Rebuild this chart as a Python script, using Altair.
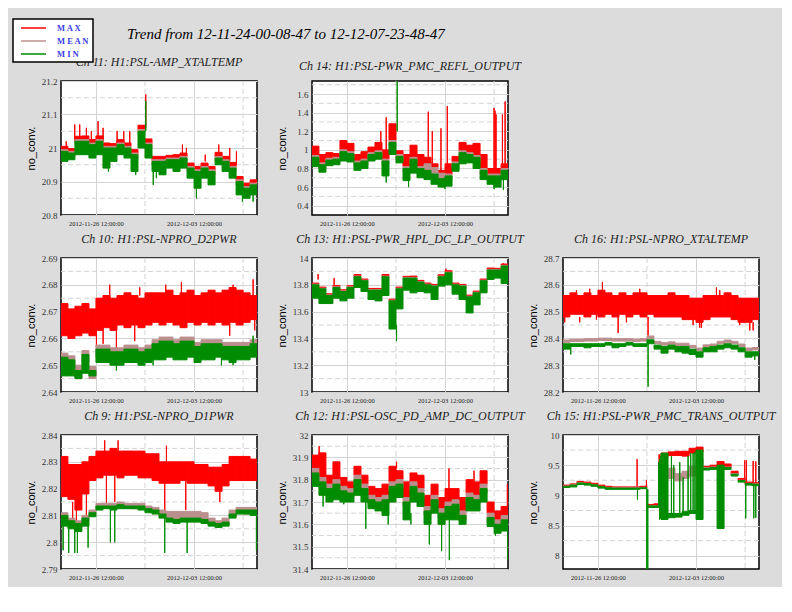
import pandas as pd
import altair as alt

START = pd.Timestamp("2012-11-24 00:00", tz="UTC")
N_BINS = 28          # 12-hour bins across the two weeks
BIN_H = 12

SERIES = ["MAX", "MEAN", "MIN"]
COLORS = ["#ff0000", "#bc8f8f", "#008c00"]
GRID = "#d3d3d3"

X_DOMAIN = [alt.DateTime(year=2012, month=11, date=24, hours=0, minutes=8, seconds=47, utc=True),
            alt.DateTime(year=2012, month=12, date=7, hours=23, minutes=48, seconds=47, utc=True)]
X_MAJOR = [alt.DateTime(year=2012, month=11, date=26, hours=12, utc=True),
           alt.DateTime(year=2012, month=12, date=3, hours=12, utc=True)]
X_MINOR = ["2012-11-30T00:00:00Z", "2012-12-07T00:00:00Z"]

# ---- Ch 11: H1:PSL-AMP_XTALTEMP
CH11_MAX_LO = [20.993, 20.988, 21.023, 21.023, 21.013, 21.023, 21.003, 21.003, 21.013, 21.003, 20.983, 21.053, 21.013, 20.963, 20.963, 20.968, 20.968, 20.973, 20.943, 20.933, 20.943, 20.933, 20.973, 20.963, 20.943, 20.903, 20.883, 20.893]
CH11_MAX_HI = [21.005, 20.998, 21.035, 21.036, 21.025, 21.036, 21.015, 21.013, 21.025, 21.015, 20.995, 21.068, 21.027, 20.975, 20.975, 20.978, 20.98, 20.985, 20.955, 20.945, 20.955, 20.945, 20.987, 20.975, 20.957, 20.915, 20.895, 20.905]
CH11_MEAN_LO = [20.98, 20.975, 21.01, 21.01, 21.0, 21.01, 20.99, 20.99, 21.0, 20.99, 20.97, 21.04, 21.0, 20.95, 20.95, 20.955, 20.955, 20.96, 20.93, 20.92, 20.93, 20.92, 20.96, 20.95, 20.93, 20.89, 20.87, 20.88]
CH11_MEAN_HI = [20.995, 20.99, 21.025, 21.025, 21.015, 21.025, 21.005, 21.005, 21.015, 21.005, 20.985, 21.055, 21.015, 20.965, 20.965, 20.97, 20.97, 20.975, 20.945, 20.935, 20.945, 20.935, 20.975, 20.965, 20.945, 20.905, 20.885, 20.895]
CH11_MIN_LO = [20.96, 20.965, 20.98, 20.98, 20.97, 20.98, 20.94, 20.96, 20.98, 20.97, 20.93, 21.0, 20.97, 20.93, 20.92, 20.94, 20.93, 20.94, 20.91, 20.88, 20.91, 20.89, 20.95, 20.93, 20.91, 20.86, 20.85, 20.86]
CH11_MIN_HI = [20.99, 20.985, 21.02, 21.02, 21.01, 21.02, 21.0, 21.0, 21.01, 21.0, 20.98, 21.05, 21.01, 20.96, 20.96, 20.965, 20.965, 20.97, 20.94, 20.93, 20.94, 20.93, 20.97, 20.96, 20.94, 20.9, 20.88, 20.89]
CH11_SPK_H = [9.0, 23.6, 32.1, 43.5, 52.0, 63.5, 72.1, 96.1, 107.5, 117.8, 145.2, 208.0, 214.8, 247.0, 270.2, 289.0, 300.5, 145.2, 81.2, 128.0, 158.0, 163.4, 231.9, 310.7, 329.0]
CH11_SPK_LO = [21.0, 21.02, 21.02, 21.02, 21.02, 21.02, 21.02, 21.0, 21.0, 21.0, 21.06, 20.97, 20.97, 20.96, 20.97, 20.96, 20.95, 21.05, 20.93, 20.92, 20.89, 20.91, 20.85, 20.84, 20.84]
CH11_SPK_HI = [21.02, 21.07, 21.07, 21.06, 21.05, 21.08, 21.06, 21.05, 21.05, 21.05, 21.16, 21.01, 21.0, 20.98, 21.01, 21.0, 20.99, 21.14, 20.98, 20.96, 20.95, 20.95, 20.92, 20.9, 20.88]
CH11_SPK_S = ["MAX"] * 17 + ["MIN"] * 8

# ---- Ch 14: H1:PSL-PWR_PMC_REFL_OUTPUT
CH14_MAX_LO = [0.94, 0.86, 0.91, 0.92, 1.00, 0.98, 0.88, 0.90, 0.97, 0.99, 0.90, 1.10, 0.95, 0.82, 0.92, 0.82, 0.85, 0.81, 0.75, 0.74, 0.87, 0.99, 0.97, 0.94, 0.80, 0.74, 0.74, 0.80]
CH14_MAX_HI = [1.04, 0.95, 0.97, 0.96, 1.10, 1.07, 0.95, 0.98, 1.03, 1.08, 1.00, 1.28, 0.99, 0.95, 1.05, 0.95, 0.92, 0.85, 0.78, 0.85, 0.93, 1.08, 1.05, 1.07, 0.95, 0.80, 0.80, 0.85]
CH14_MEAN_LO = [0.88, 0.80, 0.85, 0.86, 0.94, 0.92, 0.82, 0.84, 0.91, 0.93, 0.84, 1.04, 0.89, 0.76, 0.86, 0.76, 0.76, 0.72, 0.66, 0.68, 0.81, 0.93, 0.91, 0.88, 0.74, 0.68, 0.68, 0.74]
CH14_MEAN_HI = [0.94, 0.86, 0.91, 0.92, 1.00, 0.98, 0.88, 0.90, 0.97, 0.99, 0.90, 1.10, 0.95, 0.82, 0.92, 0.82, 0.85, 0.81, 0.75, 0.74, 0.87, 0.99, 0.97, 0.94, 0.80, 0.74, 0.74, 0.80]
CH14_MIN_LO = [0.82, 0.76, 0.83, 0.84, 0.88, 0.87, 0.78, 0.80, 0.88, 0.90, 0.72, 0.95, 0.86, 0.67, 0.75, 0.70, 0.68, 0.63, 0.60, 0.61, 0.77, 0.85, 0.86, 0.80, 0.68, 0.63, 0.60, 0.68]
CH14_MIN_HI = [0.92, 0.84, 0.89, 0.90, 0.98, 0.96, 0.86, 0.88, 0.95, 0.97, 0.88, 1.08, 0.93, 0.80, 0.90, 0.80, 0.78, 0.74, 0.69, 0.72, 0.85, 0.97, 0.95, 0.92, 0.78, 0.72, 0.72, 0.78]
CH14_SPK_H = [117.9, 127.1, 199.1, 206.0, 220.9, 231.7, 311.8, 313.5, 315.2, 326.1, 330.7, 145.9, 127.1, 165.4, 227.7, 311.8, 327.8]
CH14_SPK_LO = [1.0, 0.8, 0.85, 0.85, 0.75, 0.72, 0.72, 0.72, 0.72, 0.72, 0.75, 1.2, 0.65, 0.6, 0.58, 0.58, 0.57]
CH14_SPK_HI = [1.2, 1.35, 1.41, 1.2, 1.23, 1.47, 1.45, 1.42, 1.38, 1.38, 1.52, 1.74, 0.85, 0.8, 0.7, 0.7, 0.7]
CH14_SPK_S = ["MAX"] * 11 + ["MIN"] * 6

# ---- Ch 10: H1:PSL-NPRO_D2PWR
CH10_MAX_LO = [2.661, 2.660, 2.661, 2.662, 2.661, 2.663, 2.664, 2.663, 2.665, 2.664, 2.665, 2.664, 2.665, 2.666, 2.665, 2.666, 2.665, 2.664, 2.666, 2.665, 2.666, 2.665, 2.666, 2.665, 2.666, 2.665, 2.666, 2.667]
CH10_MAX_HI = [2.673, 2.671, 2.672, 2.673, 2.671, 2.675, 2.676, 2.675, 2.676, 2.677, 2.676, 2.675, 2.677, 2.677, 2.677, 2.678, 2.676, 2.677, 2.678, 2.676, 2.677, 2.678, 2.677, 2.678, 2.679, 2.678, 2.677, 2.676]
CH10_MEAN_LO = [2.650, 2.649, 2.645, 2.651, 2.645, 2.653, 2.653, 2.652, 2.652, 2.653, 2.653, 2.652, 2.653, 2.655, 2.656, 2.656, 2.655, 2.656, 2.656, 2.654, 2.655, 2.655, 2.655, 2.654, 2.654, 2.654, 2.654, 2.655]
CH10_MEAN_HI = [2.6545, 2.6535, 2.650, 2.6555, 2.6495, 2.6575, 2.6575, 2.6565, 2.6565, 2.6575, 2.6575, 2.6565, 2.6575, 2.6595, 2.6605, 2.6605, 2.6595, 2.6605, 2.6605, 2.6585, 2.6595, 2.6595, 2.6595, 2.6585, 2.6585, 2.6585, 2.6585, 2.6595]
CH10_MIN_LO = [2.646, 2.646, 2.645, 2.647, 2.646, 2.651, 2.651, 2.650, 2.650, 2.651, 2.651, 2.650, 2.651, 2.652, 2.652, 2.653, 2.652, 2.652, 2.653, 2.651, 2.652, 2.652, 2.653, 2.652, 2.651, 2.652, 2.652, 2.653]
CH10_MIN_HI = [2.653, 2.652, 2.648, 2.654, 2.648, 2.656, 2.656, 2.655, 2.655, 2.656, 2.656, 2.655, 2.656, 2.658, 2.659, 2.659, 2.658, 2.659, 2.659, 2.657, 2.658, 2.658, 2.658, 2.657, 2.657, 2.657, 2.657, 2.658]
CH10_SPK_H = [60.7, 72.1, 94.9, 126.3, 289.0, 331.8, 83.5, 134.9, 179.4, 206.2, 294.7, 329.0, 94.9, 157.7, 274.8, 294.7, 329.0]
CH10_SPK_LO = [2.656, 2.658, 2.653, 2.659, 2.661, 2.663, 2.675, 2.676, 2.677, 2.677, 2.678, 2.676, 2.648, 2.650, 2.650, 2.650, 2.657]
CH10_SPK_HI = [2.664, 2.664, 2.664, 2.665, 2.666, 2.667, 2.680, 2.679, 2.680, 2.681, 2.680, 2.682, 2.652, 2.652, 2.653, 2.653, 2.661]
CH10_SPK_S = ["MAX"] * 12 + ["MIN"] * 5

# ---- Ch 13: H1:PSL-PWR_HPL_DC_LP_OUTPUT
CH13_MAX_LO = [13.805, 13.775, 13.725, 13.785, 13.755, 13.785, 13.865, 13.835, 13.765, 13.765, 13.865, 13.685, 13.775, 13.855, 13.855, 13.825, 13.805, 13.795, 13.865, 13.895, 13.805, 13.795, 13.715, 13.745, 13.835, 13.915, 13.915, 13.945]
CH13_MAX_HI = [13.813, 13.783, 13.733, 13.795, 13.763, 13.793, 13.876, 13.843, 13.773, 13.773, 13.877, 13.693, 13.783, 13.863, 13.865, 13.833, 13.813, 13.803, 13.875, 13.905, 13.813, 13.803, 13.723, 13.753, 13.843, 13.925, 13.923, 13.955]
CH13_MEAN_LO = [13.79, 13.76, 13.71, 13.77, 13.74, 13.77, 13.85, 13.82, 13.75, 13.75, 13.85, 13.67, 13.76, 13.84, 13.84, 13.81, 13.79, 13.78, 13.85, 13.88, 13.79, 13.78, 13.70, 13.73, 13.82, 13.90, 13.90, 13.93]
CH13_MEAN_HI = [13.805, 13.775, 13.725, 13.785, 13.755, 13.785, 13.865, 13.835, 13.765, 13.765, 13.865, 13.685, 13.775, 13.855, 13.855, 13.825, 13.805, 13.795, 13.865, 13.895, 13.805, 13.795, 13.715, 13.745, 13.835, 13.915, 13.915, 13.945]
CH13_MIN_LO = [13.70, 13.66, 13.66, 13.70, 13.68, 13.70, 13.78, 13.75, 13.69, 13.68, 13.72, 13.47, 13.62, 13.76, 13.74, 13.75, 13.74, 13.69, 13.79, 13.80, 13.73, 13.69, 13.59, 13.65, 13.74, 13.84, 13.85, 13.81]
CH13_MIN_HI = [13.80, 13.77, 13.72, 13.78, 13.75, 13.78, 13.86, 13.83, 13.76, 13.76, 13.86, 13.68, 13.77, 13.85, 13.85, 13.82, 13.80, 13.79, 13.86, 13.89, 13.80, 13.79, 13.71, 13.74, 13.83, 13.91, 13.91, 13.94]
CH13_SPK_H = [10.4, 37.9, 229.4, 327.8, 144.8]
CH13_SPK_LO = [13.84, 13.80, 13.90, 13.93, 13.38]
CH13_SPK_HI = [13.88, 13.85, 13.92, 13.96, 13.50]
CH13_SPK_S = ["MAX"] * 4 + ["MIN"] * 1

# ---- Ch 16: H1:PSL-NPRO_XTALTEMP
CH16_MAX_LO = [28.48, 28.49, 28.49, 28.48, 28.49, 28.48, 28.49, 28.48, 28.49, 28.48, 28.49, 28.48, 28.49, 28.48, 28.48, 28.48, 28.48, 28.47, 28.47, 28.46, 28.47, 28.48, 28.48, 28.48, 28.47, 28.46, 28.46, 28.47]
CH16_MAX_HI = [28.56, 28.57, 28.56, 28.57, 28.56, 28.58, 28.57, 28.56, 28.57, 28.56, 28.57, 28.57, 28.56, 28.56, 28.56, 28.57, 28.56, 28.56, 28.55, 28.55, 28.56, 28.56, 28.56, 28.57, 28.56, 28.55, 28.55, 28.55]
CH16_MEAN_LO = [28.385, 28.388, 28.388, 28.39, 28.39, 28.392, 28.392, 28.39, 28.39, 28.39, 28.388, 28.39, 28.40, 28.38, 28.375, 28.378, 28.373, 28.373, 28.365, 28.355, 28.367, 28.37, 28.38, 28.385, 28.38, 28.37, 28.355, 28.357]
CH16_MEAN_HI = [28.394, 28.397, 28.397, 28.399, 28.399, 28.401, 28.401, 28.399, 28.399, 28.399, 28.397, 28.399, 28.409, 28.389, 28.384, 28.387, 28.382, 28.382, 28.374, 28.364, 28.376, 28.379, 28.389, 28.394, 28.389, 28.379, 28.364, 28.366]
CH16_MIN_LO = [28.36, 28.37, 28.37, 28.365, 28.37, 28.37, 28.375, 28.365, 28.37, 28.375, 28.37, 28.37, 28.38, 28.36, 28.345, 28.36, 28.35, 28.345, 28.34, 28.33, 28.35, 28.35, 28.36, 28.365, 28.36, 28.35, 28.33, 28.335]
CH16_MIN_HI = [28.38, 28.38, 28.38, 28.38, 28.38, 28.38, 28.385, 28.38, 28.38, 28.385, 28.38, 28.38, 28.395, 28.375, 28.37, 28.375, 28.37, 28.37, 28.36, 28.35, 28.365, 28.37, 28.375, 28.38, 28.375, 28.365, 28.35, 28.35]
CH16_SPK_H = [67.5, 23.0, 45.8, 131.5, 262.8, 268.5, 3.0, 28.7, 57.2, 94.4, 108.6, 145.7, 222.8, 234.2, 237.1, 302.7, 319.9, 325.6, 145.7, 13.3, 228.5, 328.4]
CH16_SPK_LO = [28.55, 28.56, 28.56, 28.57, 28.56, 28.56, 28.46, 28.46, 28.47, 28.42, 28.46, 28.41, 28.45, 28.44, 28.44, 28.45, 28.43, 28.43, 28.22, 28.34, 28.33, 28.32]
CH16_SPK_HI = [28.61, 28.58, 28.585, 28.585, 28.59, 28.58, 28.48, 28.48, 28.49, 28.48, 28.48, 28.48, 28.47, 28.47, 28.46, 28.47, 28.47, 28.46, 28.38, 28.37, 28.35, 28.34]
CH16_SPK_S = ["MAX"] * 18 + ["MIN"] * 4

# ---- Ch 9: H1:PSL-NPRO_D1PWR
CH9_MAX_LO = [2.817, 2.816, 2.812, 2.818, 2.823, 2.824, 2.825, 2.825, 2.824, 2.825, 2.825, 2.824, 2.824, 2.823, 2.822, 2.822, 2.822, 2.823, 2.822, 2.822, 2.822, 2.821, 2.819, 2.821, 2.823, 2.823, 2.823, 2.823]
CH9_MAX_HI = [2.832, 2.829, 2.829, 2.830, 2.832, 2.834, 2.834, 2.835, 2.834, 2.834, 2.834, 2.834, 2.833, 2.833, 2.830, 2.830, 2.830, 2.830, 2.830, 2.829, 2.829, 2.828, 2.828, 2.829, 2.832, 2.832, 2.832, 2.831]
CH9_MEAN_LO = [2.809, 2.807, 2.806, 2.808, 2.8105, 2.8125, 2.8128, 2.8128, 2.813, 2.8128, 2.8125, 2.8125, 2.8115, 2.811, 2.8095, 2.809, 2.8085, 2.809, 2.809, 2.809, 2.808, 2.8065, 2.806, 2.8065, 2.8095, 2.811, 2.8105, 2.8105]
CH9_MEAN_HI = [2.811, 2.809, 2.808, 2.810, 2.812, 2.8145, 2.8145, 2.8145, 2.815, 2.8145, 2.8145, 2.8145, 2.8135, 2.813, 2.812, 2.8115, 2.8115, 2.8115, 2.8115, 2.8115, 2.811, 2.809, 2.808, 2.809, 2.812, 2.813, 2.813, 2.813]
CH9_MIN_LO = [2.806, 2.805, 2.804, 2.806, 2.8095, 2.812, 2.8125, 2.812, 2.8125, 2.8125, 2.8125, 2.812, 2.811, 2.8105, 2.809, 2.8075, 2.807, 2.8075, 2.8075, 2.8075, 2.807, 2.806, 2.8055, 2.806, 2.809, 2.8105, 2.8105, 2.810]
CH9_MIN_HI = [2.810, 2.808, 2.807, 2.809, 2.811, 2.8135, 2.8135, 2.8135, 2.814, 2.8135, 2.8135, 2.8135, 2.8125, 2.812, 2.8105, 2.809, 2.8085, 2.809, 2.809, 2.809, 2.8085, 2.8075, 2.807, 2.8075, 2.8105, 2.812, 2.812, 2.812]
CH9_SPK_H = [20.0, 26.4, 43.5, 77.8, 92.1, 177.7, 213.7, 272.0, 74.9, 97.8, 180.6, 3.6, 13.3, 23.6, 28.1, 46.4, 84.6, 92.1, 177.7, 216.0, 334.7]
CH9_SPK_LO = [2.808, 2.805, 2.810, 2.813, 2.815, 2.810, 2.812, 2.815, 2.834, 2.834, 2.830, 2.797, 2.796, 2.796, 2.796, 2.798, 2.800, 2.800, 2.796, 2.796, 2.797]
CH9_SPK_HI = [2.815, 2.815, 2.818, 2.825, 2.825, 2.822, 2.823, 2.820, 2.838, 2.838, 2.836, 2.807, 2.806, 2.805, 2.805, 2.807, 2.812, 2.812, 2.809, 2.808, 2.810]
CH9_SPK_S = ["MAX"] * 11 + ["MIN"] * 10

# ---- Ch 12: H1:PSL-OSC_PD_AMP_DC_OUTPUT
CH12_MAX_LO = [31.85, 31.81, 31.78, 31.80, 31.77, 31.76, 31.82, 31.78, 31.73, 31.72, 31.73, 31.79, 31.80, 31.72, 31.79, 31.76, 31.68, 31.73, 31.67, 31.70, 31.71, 31.66, 31.74, 31.73, 31.78, 31.65, 31.62, 31.64]
CH12_MAX_HI = [31.91, 31.92, 31.82, 31.88, 31.81, 31.79, 31.86, 31.82, 31.77, 31.76, 31.78, 31.86, 31.84, 31.79, 31.83, 31.82, 31.73, 31.78, 31.72, 31.76, 31.76, 31.72, 31.80, 31.79, 31.84, 31.70, 31.66, 31.68]
CH12_MEAN_LO = [31.81, 31.77, 31.74, 31.76, 31.73, 31.72, 31.78, 31.74, 31.69, 31.68, 31.69, 31.75, 31.76, 31.68, 31.75, 31.72, 31.64, 31.69, 31.63, 31.66, 31.67, 31.62, 31.70, 31.69, 31.74, 31.61, 31.58, 31.60]
CH12_MEAN_HI = [31.85, 31.81, 31.78, 31.80, 31.77, 31.76, 31.82, 31.78, 31.73, 31.72, 31.73, 31.79, 31.80, 31.72, 31.79, 31.76, 31.68, 31.73, 31.67, 31.70, 31.71, 31.66, 31.74, 31.73, 31.78, 31.65, 31.62, 31.64]
CH12_MIN_LO = [31.77, 31.73, 31.70, 31.71, 31.70, 31.70, 31.73, 31.70, 31.67, 31.66, 31.64, 31.70, 31.72, 31.62, 31.70, 31.68, 31.60, 31.65, 31.60, 31.62, 31.62, 31.60, 31.66, 31.66, 31.70, 31.59, 31.56, 31.57]
CH12_MIN_HI = [31.83, 31.79, 31.76, 31.78, 31.75, 31.74, 31.80, 31.76, 31.71, 31.70, 31.71, 31.77, 31.78, 31.70, 31.77, 31.74, 31.66, 31.71, 31.65, 31.68, 31.69, 31.64, 31.72, 31.71, 31.76, 31.63, 31.60, 31.62]
CH12_SPK_H = [12.2, 144.8, 234.6, 277.5, 334.6, 19.0, 54.5, 92.2, 130.5, 169.4, 200.9, 222.0, 235.2, 256.3, 314.1, 335.2]
CH12_SPK_LO = [31.90, 31.85, 31.76, 31.78, 31.65, 31.68, 31.69, 31.58, 31.60, 31.60, 31.51, 31.48, 31.44, 31.60, 31.55, 31.44]
CH12_SPK_HI = [31.95, 31.88, 31.85, 31.84, 31.78, 31.73, 31.72, 31.70, 31.70, 31.65, 31.62, 31.62, 31.62, 31.63, 31.60, 31.57]
CH12_SPK_S = ["MAX"] * 5 + ["MIN"] * 11

# ---- Ch 15: H1:PSL-PWR_PMC_TRANS_OUTPUT
CH15_MAX_LO = [9.155, 9.175, 9.21, 9.20, 9.18, 9.15, 9.13, 9.13, 9.13, 9.13, 9.13, 9.13, 8.83, 8.83, 9.63, 9.66, 9.66, 9.65, 9.70, 9.72, 9.46, 9.47, 9.50, 9.47, 9.35, 9.25, 9.20, 9.19]
CH15_MAX_HI = [9.17, 9.19, 9.23, 9.22, 9.20, 9.17, 9.15, 9.14, 9.14, 9.14, 9.14, 9.15, 8.85, 8.86, 9.70, 9.72, 9.73, 9.73, 9.78, 9.80, 9.48, 9.50, 9.56, 9.52, 9.40, 9.28, 9.22, 9.21]
CH15_MEAN_LO = [9.145, 9.165, 9.20, 9.19, 9.17, 9.14, 9.12, 9.115, 9.115, 9.115, 9.115, 9.12, 8.82, 8.82, 9.30, 9.28, 9.24, 9.28, 9.32, 9.40, 9.44, 9.45, 9.42, 9.45, 9.34, 9.24, 9.19, 9.18]
CH15_MEAN_HI = [9.155, 9.175, 9.21, 9.20, 9.18, 9.15, 9.13, 9.125, 9.125, 9.125, 9.125, 9.13, 8.83, 8.83, 9.45, 9.45, 9.36, 9.40, 9.48, 9.60, 9.46, 9.47, 9.48, 9.47, 9.36, 9.25, 9.20, 9.19]
CH15_MIN_LO = [9.13, 9.14, 9.18, 9.17, 9.15, 9.12, 9.10, 9.10, 9.10, 9.10, 9.10, 9.11, 8.80, 8.80, 8.60, 8.63, 8.64, 8.67, 8.70, 8.60, 9.42, 9.43, 8.45, 9.43, 9.32, 9.22, 9.17, 9.16]
CH15_MIN_HI = [9.15, 9.17, 9.205, 9.195, 9.175, 9.145, 9.125, 9.12, 9.12, 9.12, 9.12, 9.125, 8.825, 8.825, 9.70, 8.70, 8.70, 8.73, 8.75, 9.75, 9.45, 9.46, 9.50, 9.46, 9.35, 9.245, 9.195, 9.185]
CH15_SPK_H = [126.9, 142.9, 164.6, 166.0, 311.3, 314.2, 325.6, 330.2, 127.5, 143.5, 145.2, 164.0, 165.5, 167.0, 185.7, 189.7, 200.0, 205.7, 214.2, 218.8, 222.8, 226.0, 313.0, 326.8, 330.2]
CH15_SPK_LO = [9.15, 9.13, 8.86, 8.86, 9.21, 9.21, 9.20, 9.20, 8.93, 7.70, 7.70, 8.83, 8.60, 8.62, 8.65, 8.65, 8.67, 8.70, 8.70, 8.70, 8.70, 8.70, 8.62, 8.62, 8.63]
CH15_SPK_HI = [9.60, 9.25, 9.68, 9.66, 9.58, 9.58, 9.57, 9.56, 9.10, 9.10, 9.10, 9.55, 9.60, 9.65, 9.65, 9.50, 9.55, 9.30, 9.65, 9.70, 9.70, 9.72, 9.17, 9.17, 9.17]
CH15_SPK_S = ["MAX"] * 8 + ["MIN"] * 17


def stamp(h):
    return (START + pd.Timedelta(hours=h)).strftime("%Y-%m-%dT%H:%M:%SZ")


color_scale = alt.Scale(domain=SERIES, range=COLORS)
legend = alt.Legend(
    title=None, orient="none", legendX=-48, legendY=-62, direction="vertical",
    symbolType="M-0.2,0H4.8", symbolSize=100, symbolStrokeWidth=1.5,
    labelFont="Liberation Serif", labelFontSize=8.5, labelFontWeight="bold", labelColor="#3c3ce6",
    labelExpr="datum.label == 'MAX' ? 'M A X' : datum.label == 'MEAN' ? 'M E A N' : 'M I N'",
    labelOffset=29, padding=3, rowPadding=2, fillColor="white", strokeColor="black",
)


def panel(title, ydom, yticks, yminor, bands, spikes):
    rows = []
    for s, (lo, hi) in zip(SERIES, bands):
        for k in range(N_BINS):
            rows.append({"series": s, "t0": stamp(k * BIN_H), "t1": stamp((k + 1) * BIN_H), "lo": lo[k], "hi": hi[k]})
        for h, a, b, ss in zip(*spikes):
            if ss == s:
                rows.append({"series": s, "t0": stamp(h), "t1": stamp(h + 0.25), "lo": a, "hi": b})

    x_scale = alt.Scale(type="utc", domain=X_DOMAIN)
    y_scale = alt.Scale(domain=ydom, zero=False, nice=False)

    x_axis = alt.Axis(values=X_MAJOR, labelExpr="utcFormat(datum.value, '%Y-%m-%d %H:%M:%S')",
                      labelFont="Liberation Serif", labelFontSize=6.5, labelColor="#222222",
                      ticks=False, domain=False, grid=True, gridColor=GRID, title=None,
                      labelPadding=5, labelFlush=False, labelOverlap=False)
    y_axis = alt.Axis(values=yticks, labelExpr="'' + datum.value", title="no_conv.",
                      titleFont="Liberation Sans", titleFontSize=11, titleFontWeight="normal",
                      titleColor="black", labelFont="Liberation Serif", labelFontSize=9,
                      labelColor="#333333", ticks=False, domain=False, grid=True, gridColor=GRID,
                      labelPadding=4, minExtent=20, maxExtent=20, titlePadding=5, labelOverlap=False)

    xminor = alt.Chart(pd.DataFrame({"t": X_MINOR})).mark_rule(
        color=GRID, strokeDash=[5, 3], strokeWidth=1
    ).encode(x=alt.X("t:T", scale=x_scale, axis=x_axis))

    yminor_rules = alt.Chart(pd.DataFrame({"v": yminor})).mark_rule(
        color=GRID, strokeDash=[5, 3], strokeWidth=1
    ).encode(y=alt.Y("v:Q", scale=y_scale, axis=y_axis))

    traces = alt.Chart(pd.DataFrame(rows)).mark_rect(clip=True, strokeWidth=1).encode(
        x=alt.X("t0:T", scale=x_scale, axis=x_axis),
        x2="t1:T",
        y=alt.Y("lo:Q", scale=y_scale, axis=y_axis),
        y2="hi:Q",
        fill=alt.Fill("series:N", scale=color_scale, legend=legend),
        stroke=alt.Stroke("series:N", scale=color_scale, legend=legend),
    )

    return alt.layer(xminor, yminor_rules, traces).properties(
        width=196, height=134,
        title=alt.TitleParams(title, font="Liberation Serif", fontStyle="italic", fontSize=12,
                              fontWeight="normal", color="#222222", frame="group", offset=8),
    )


# empty slot at the top right of the 3x3 grid
blank = alt.Chart(pd.DataFrame({"v": [0]})).mark_point(opacity=0).encode(
    x=alt.X("v:Q", axis=None), y=alt.Y("v:Q", axis=None)
).properties(width=196, height=134, view=alt.ViewBackground(stroke="transparent", fill="transparent"))

p11 = panel("Ch 11: H1:PSL-AMP_XTALTEMP", [20.8, 21.2], [20.8, 20.9, 21, 21.1, 21.2], [20.85, 20.95, 21.05, 21.15],
            [(CH11_MAX_LO, CH11_MAX_HI), (CH11_MEAN_LO, CH11_MEAN_HI), (CH11_MIN_LO, CH11_MIN_HI)],
            (CH11_SPK_H, CH11_SPK_LO, CH11_SPK_HI, CH11_SPK_S))
p14 = panel("Ch 14: H1:PSL-PWR_PMC_REFL_OUTPUT", [0.3, 1.74], [0.4, 0.6, 0.8, 1, 1.2, 1.4, 1.6], [0.5, 0.7, 0.9, 1.1, 1.3, 1.5, 1.7],
            [(CH14_MAX_LO, CH14_MAX_HI), (CH14_MEAN_LO, CH14_MEAN_HI), (CH14_MIN_LO, CH14_MIN_HI)],
            (CH14_SPK_H, CH14_SPK_LO, CH14_SPK_HI, CH14_SPK_S))
p10 = panel("Ch 10: H1:PSL-NPRO_D2PWR", [2.64, 2.69], [2.64, 2.65, 2.66, 2.67, 2.68, 2.69], [2.645, 2.655, 2.665, 2.675, 2.685],
            [(CH10_MAX_LO, CH10_MAX_HI), (CH10_MEAN_LO, CH10_MEAN_HI), (CH10_MIN_LO, CH10_MIN_HI)],
            (CH10_SPK_H, CH10_SPK_LO, CH10_SPK_HI, CH10_SPK_S))
p13 = panel("Ch 13: H1:PSL-PWR_HPL_DC_LP_OUTPUT", [13, 14], [13, 13.2, 13.4, 13.6, 13.8, 14], [13.1, 13.3, 13.5, 13.7, 13.9],
            [(CH13_MAX_LO, CH13_MAX_HI), (CH13_MEAN_LO, CH13_MEAN_HI), (CH13_MIN_LO, CH13_MIN_HI)],
            (CH13_SPK_H, CH13_SPK_LO, CH13_SPK_HI, CH13_SPK_S))
p16 = panel("Ch 16: H1:PSL-NPRO_XTALTEMP", [28.2, 28.7], [28.2, 28.3, 28.4, 28.5, 28.6, 28.7], [28.25, 28.35, 28.45, 28.55, 28.65],
            [(CH16_MAX_LO, CH16_MAX_HI), (CH16_MEAN_LO, CH16_MEAN_HI), (CH16_MIN_LO, CH16_MIN_HI)],
            (CH16_SPK_H, CH16_SPK_LO, CH16_SPK_HI, CH16_SPK_S))
p9 = panel("Ch 9: H1:PSL-NPRO_D1PWR", [2.79, 2.84], [2.79, 2.8, 2.81, 2.82, 2.83, 2.84], [2.795, 2.805, 2.815, 2.825, 2.835],
           [(CH9_MAX_LO, CH9_MAX_HI), (CH9_MEAN_LO, CH9_MEAN_HI), (CH9_MIN_LO, CH9_MIN_HI)],
           (CH9_SPK_H, CH9_SPK_LO, CH9_SPK_HI, CH9_SPK_S))
p12 = panel("Ch 12: H1:PSL-OSC_PD_AMP_DC_OUTPUT", [31.4, 32], [31.4, 31.5, 31.6, 31.7, 31.8, 31.9, 32], [31.45, 31.55, 31.65, 31.75, 31.85, 31.95],
            [(CH12_MAX_LO, CH12_MAX_HI), (CH12_MEAN_LO, CH12_MEAN_HI), (CH12_MIN_LO, CH12_MIN_HI)],
            (CH12_SPK_H, CH12_SPK_LO, CH12_SPK_HI, CH12_SPK_S))
p15 = panel("Ch 15: H1:PSL-PWR_PMC_TRANS_OUTPUT", [7.78, 10], [8, 8.5, 9, 9.5, 10], [8.25, 8.75, 9.25, 9.75],
            [(CH15_MAX_LO, CH15_MAX_HI), (CH15_MEAN_LO, CH15_MEAN_HI), (CH15_MIN_LO, CH15_MIN_HI)],
            (CH15_SPK_H, CH15_SPK_LO, CH15_SPK_HI, CH15_SPK_S))

chart = alt.concat(
    p11, p14, blank, p10, p13, p16, p9, p12, p15,
    columns=3, spacing={"row": 43, "column": 55}, bounds="flush",
).resolve_scale(
    fill="shared", stroke="shared"
).properties(
    title=alt.TitleParams("Trend from 12-11-24-00-08-47 to 12-12-07-23-48-47",
                          font="Liberation Serif", fontStyle="italic", fontSize=15,
                          fontWeight="normal", color="black", anchor="start",
                          frame="group", dx=66, offset=-24),
    padding={"left": 4, "top": 10, "right": 5, "bottom": 5},
).configure(
    background="#dcdcdc"
).configure_view(
    fill="white", stroke="black", strokeWidth=1.5
).configure_legend(
    strokeWidth=1.5
)

chart.save("out.html", embed_options={"renderer": "svg", "actions": False})
